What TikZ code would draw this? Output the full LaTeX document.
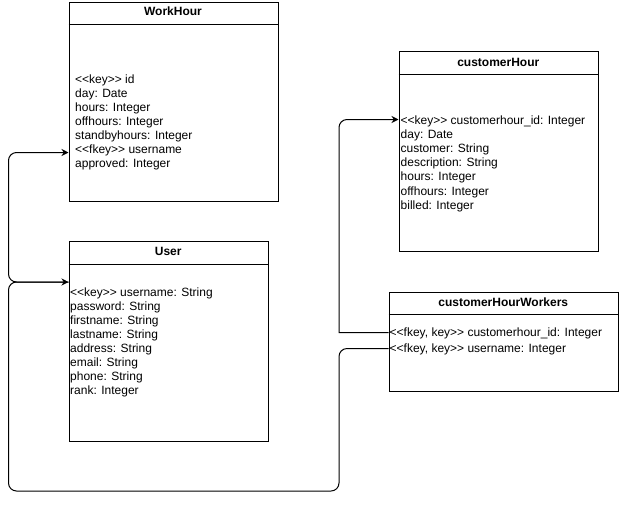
\documentclass[tikz,border=0pt]{standalone}
\usepackage{fontspec}
\setmainfont{Liberation Sans}
\usetikzlibrary{arrows.meta}
\begin{document}
\begin{tikzpicture}[x=1pt,y=-1pt,
  tablebox/.style={draw, line width=1pt, inner sep=0pt, anchor=north west},
  title/.style={anchor=base, inner sep=0pt, font=\fontsize{12}{14}\selectfont\bfseries},
  field/.style={anchor=base west, inner sep=0pt, font=\fontsize{12}{14}\selectfont},
  conn/.style={line width=1pt, rounded corners=8pt},
  tip/.style={-{Stealth[length=7pt,width=7pt]}}]
\useasboundingbox (0,0) rectangle (620,504);
\fill[white] (0,0) rectangle (620,504);

% WorkHour table
\node[tablebox, minimum width=209.5pt, minimum height=199pt] (wh) at (68.5,1.5) {};
\draw[line width=1pt] ([yshift=-23pt]wh.north west) -- ([yshift=-23pt]wh.north east);
\node[title] (whT) at (173,15) {WorkHour};
\node[field] (wh1) at (75,83.5) {<{}<key>{}> id};
\node[field] (wh2) at (75,97.5) {day: Date};
\node[field] (wh3) at (75,111.5) {hours: Integer};
\node[field] (wh4) at (75,125.5) {offhours: Integer};
\node[field] (wh5) at (75,139.5) {standbyhours: Integer};
\node[field] (wh6) at (75,153.5) {<{}<fkey>{}> username};
\node[field] (wh7) at (75,167.5) {approved: Integer};

% User table
\node[tablebox, minimum width=199.5pt, minimum height=200pt] (u) at (68.5,241) {};
\draw[line width=1pt] ([yshift=-23pt]u.north west) -- ([yshift=-23pt]u.north east);
\node[title] (uT) at (168.25,255) {User};
\node[field] (u1) at (70,296) {<{}<key>{}> username: String};
\node[field] (u2) at (70,310) {password: String};
\node[field] (u3) at (70,324) {firstname: String};
\node[field] (u4) at (70,338) {lastname: String};
\node[field] (u5) at (70,352) {address: String};
\node[field] (u6) at (70,366) {email: String};
\node[field] (u7) at (70,380) {phone: String};
\node[field] (u8) at (70,394) {rank: Integer};

% customerHour table
\node[tablebox, minimum width=199.5pt, minimum height=200pt] (ch) at (398.5,51) {};
\draw[line width=1pt] ([yshift=-23pt]ch.north west) -- ([yshift=-23pt]ch.north east);
\node[title] (chT) at (498.25,66) {customerHour};
\node[field] (ch1) at (400.5,124) {<{}<key>{}> customerhour\_id: Integer};
\node[field] (ch2) at (400.5,138.2) {day: Date};
\node[field] (ch3) at (400.5,152.4) {customer: String};
\node[field] (ch4) at (400.5,166.6) {description: String};
\node[field] (ch5) at (400.5,180.8) {hours: Integer};
\node[field] (ch6) at (400.5,195) {offhours: Integer};
\node[field] (ch7) at (400.5,209.2) {billed: Integer};

% customerHourWorkers table
\node[tablebox, minimum width=229.5pt, minimum height=99pt] (chw) at (388.5,292) {};
\draw[line width=1pt] ([yshift=-22pt]chw.north west) -- ([yshift=-22pt]chw.north east);
\node[title] (chwT) at (503.25,306) {customerHourWorkers};
\node[field] (chw1) at (389.5,336.5) {<{}<fkey, key>{}> customerhour\_id: Integer};
\node[field] (chw2) at (389.5,352.5) {<{}<fkey, key>{}> username: Integer};

% relations
\draw[conn, tip] ([yshift=-41pt]u.north west) -- ++(-60,0)
  |- ([yshift=-151pt]wh.north west);
\draw[conn, tip] ([yshift=-56.5pt]chw.north west) -- ++(-49.5,0)
  -- ++(0,142.5) -- ++(-330.5,0) |- ([yshift=-41pt]u.north west);
\draw[line width=1pt, tip] ([yshift=-40.5pt]chw.north west) -- ++(-49.5,0)
  [rounded corners=8pt] |- ([yshift=-68.5pt]ch.north west);
\end{tikzpicture}
\end{document}
